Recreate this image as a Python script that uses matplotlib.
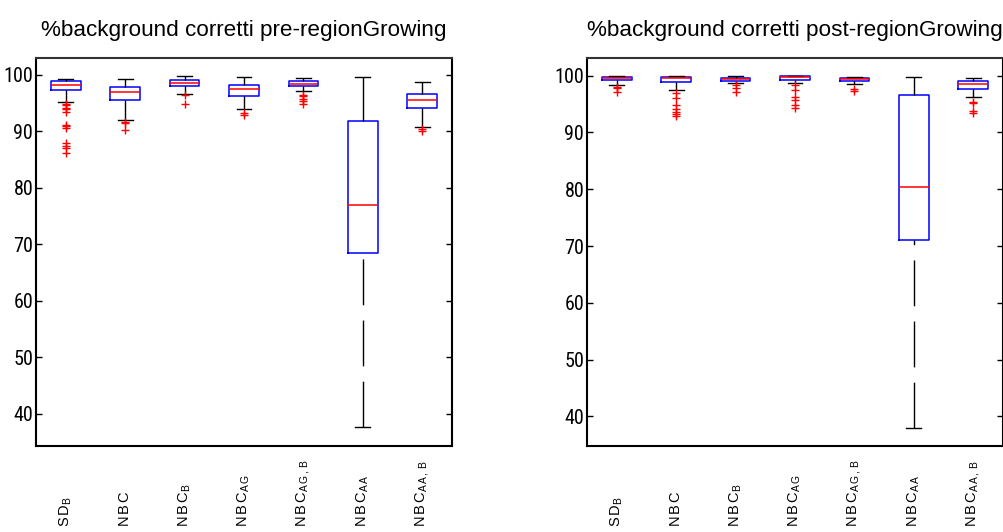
import matplotlib
matplotlib.use("Agg")
import matplotlib.pyplot as plt
from matplotlib import font_manager

plt.rcParams['font.family'] = ['Liberation Sans', 'DejaVu Sans']
plt.rcParams['mathtext.fontset'] = 'custom'
plt.rcParams['mathtext.rm'] = 'Liberation Sans'

# narrow face for the y tick numbers, whichever one is installed
installed = {f.name for f in font_manager.fontManager.ttflist}
narrow = 'Liberation Sans'
for name in ['Nimbus Sans Narrow', 'Liberation Sans Narrow', 'Arial Narrow',
             'Roboto Condensed', 'PT Sans Narrow', 'Archivo Narrow', 'Open Sans Condensed']:
    if name in installed:
        narrow = name
        break


def spaced(main, sub=None):
    gap = r'\hspace{0.15}'
    s = gap.join(main)
    if sub:
        s += '_{' + gap.join(sub) + '}'
    return r'$\mathregular{' + s + '}$'


labels = [spaced('SD', 'B'), spaced('NBC'), spaced('NBC', 'B'), spaced('NBC', 'AG'),
          spaced('NBC', 'AG,B'), spaced('NBC', 'AA'), spaced('NBC', 'AA,B')]

# pre-regionGrowing
pre_whishi = [99.3, 99.3, 99.9, 99.7, 99.5, 99.7, 98.75]
pre_q3 = [99.0, 97.9, 99.1, 98.2, 99.0, 91.85, 96.6]
pre_med = [98.2, 97.05, 98.65, 97.5, 98.35, 77.0, 95.55]
pre_q1 = [97.35, 95.6, 98.05, 96.3, 98.05, 68.45, 94.1]
pre_whislo = [95.2, 92.0, 96.6, 94.0, 97.2, 37.6, 90.8]
pre_fliers = [
    [94.9, 94.6, 94.2, 93.9, 93.5, 91.1, 90.9, 90.6, 88.0, 87.5, 87.0, 86.2],
    [91.7, 91.45, 90.3],
    [96.45, 94.9],
    [93.2, 92.9],
    [96.45, 96.2, 95.75, 95.3, 94.9],
    [],
    [90.45, 90.15],
]

# post-regionGrowing
post_whishi = [100.0, 100.0, 100.0, 100.0, 99.8, 99.8, 99.55]
post_q3 = [99.8, 99.8, 99.6, 99.95, 99.6, 96.6, 99.05]
post_med = [99.5, 99.55, 99.35, 99.8, 99.35, 80.4, 98.6]
post_q1 = [99.2, 98.85, 99.0, 99.2, 99.0, 71.0, 97.65]
post_whislo = [98.3, 97.5, 98.65, 98.7, 98.6, 38.0, 96.3]
post_fliers = [
    [98.05, 97.8, 97.2],
    [96.9, 96.1, 94.85, 94.1, 93.55, 93.25, 92.9],
    [98.35, 97.8, 97.2],
    [98.35, 97.5, 96.3, 95.7, 94.85, 94.25],
    [97.65, 97.3],
    [],
    [95.3, 95.1, 93.85, 93.5],
]

W, H = 1004, 532
fig = plt.figure(figsize=(W / 100, H / 100), dpi=100)


def draw(rect, title, whishi, q3, med, q1, whislo, fliers, ylim):
    ax = fig.add_axes(rect)
    stats = []
    for i in range(len(med)):
        stats.append(dict(med=med[i], q1=q1[i], q3=q3[i], whislo=whislo[i],
                          whishi=whishi[i], fliers=fliers[i]))
    art = ax.bxp(stats, positions=range(1, 8), widths=0.5,
                 boxprops=dict(color='#0000ff', lw=1.1),
                 medianprops=dict(color='#ff0000', lw=1.1),
                 whiskerprops=dict(color='black', lw=1.0, linestyle=(0, (33, 11))),
                 capprops=dict(color='black', lw=1.0),
                 flierprops=dict(marker='+', markeredgecolor='red', markersize=6,
                                 markeredgewidth=1.0, linestyle='none'))
    # dash pattern runs from the cap towards the box
    for w in art['whiskers']:
        x, y = w.get_data()
        w.set_data(list(x)[::-1], list(y)[::-1])
    ax.set_xlim(0.5, 7.5)
    ax.set_ylim(*ylim)
    ax.set_xticks([])
    ax.set_yticks(range(40, 101, 10))
    ax.tick_params(axis='y', direction='in', length=4, width=1, labelsize=14.5, pad=2,
                   left=True, right=True)
    for t in ax.get_yticklabels():
        t.set_family(narrow)
    for s in ax.spines.values():
        s.set_linewidth(1.5)
    ax.spines['top'].set_color('#333333')
    ax.set_title(title, fontsize=16.2, pad=16)
    for i, lab in enumerate(labels):
        x = (i + 0.5) / 7
        ax.text(x, -0.209, lab, transform=ax.transAxes, rotation=90,
                ha='center', va='bottom', fontsize=10.5)
    return ax


bottom = 1 - 446 / H
height = 388 / H
draw([36 / W, bottom, 416 / W, height], '%background corretti pre-regionGrowing',
     pre_whishi, pre_q3, pre_med, pre_q1, pre_whislo, pre_fliers, (34.3, 103.0))
draw([587 / W, bottom, 416 / W, height], '%background corretti post-regionGrowing',
     post_whishi, post_q3, post_med, post_q1, post_whislo, post_fliers, (34.8, 103.1))

fig.savefig('out.png', dpi=100)
